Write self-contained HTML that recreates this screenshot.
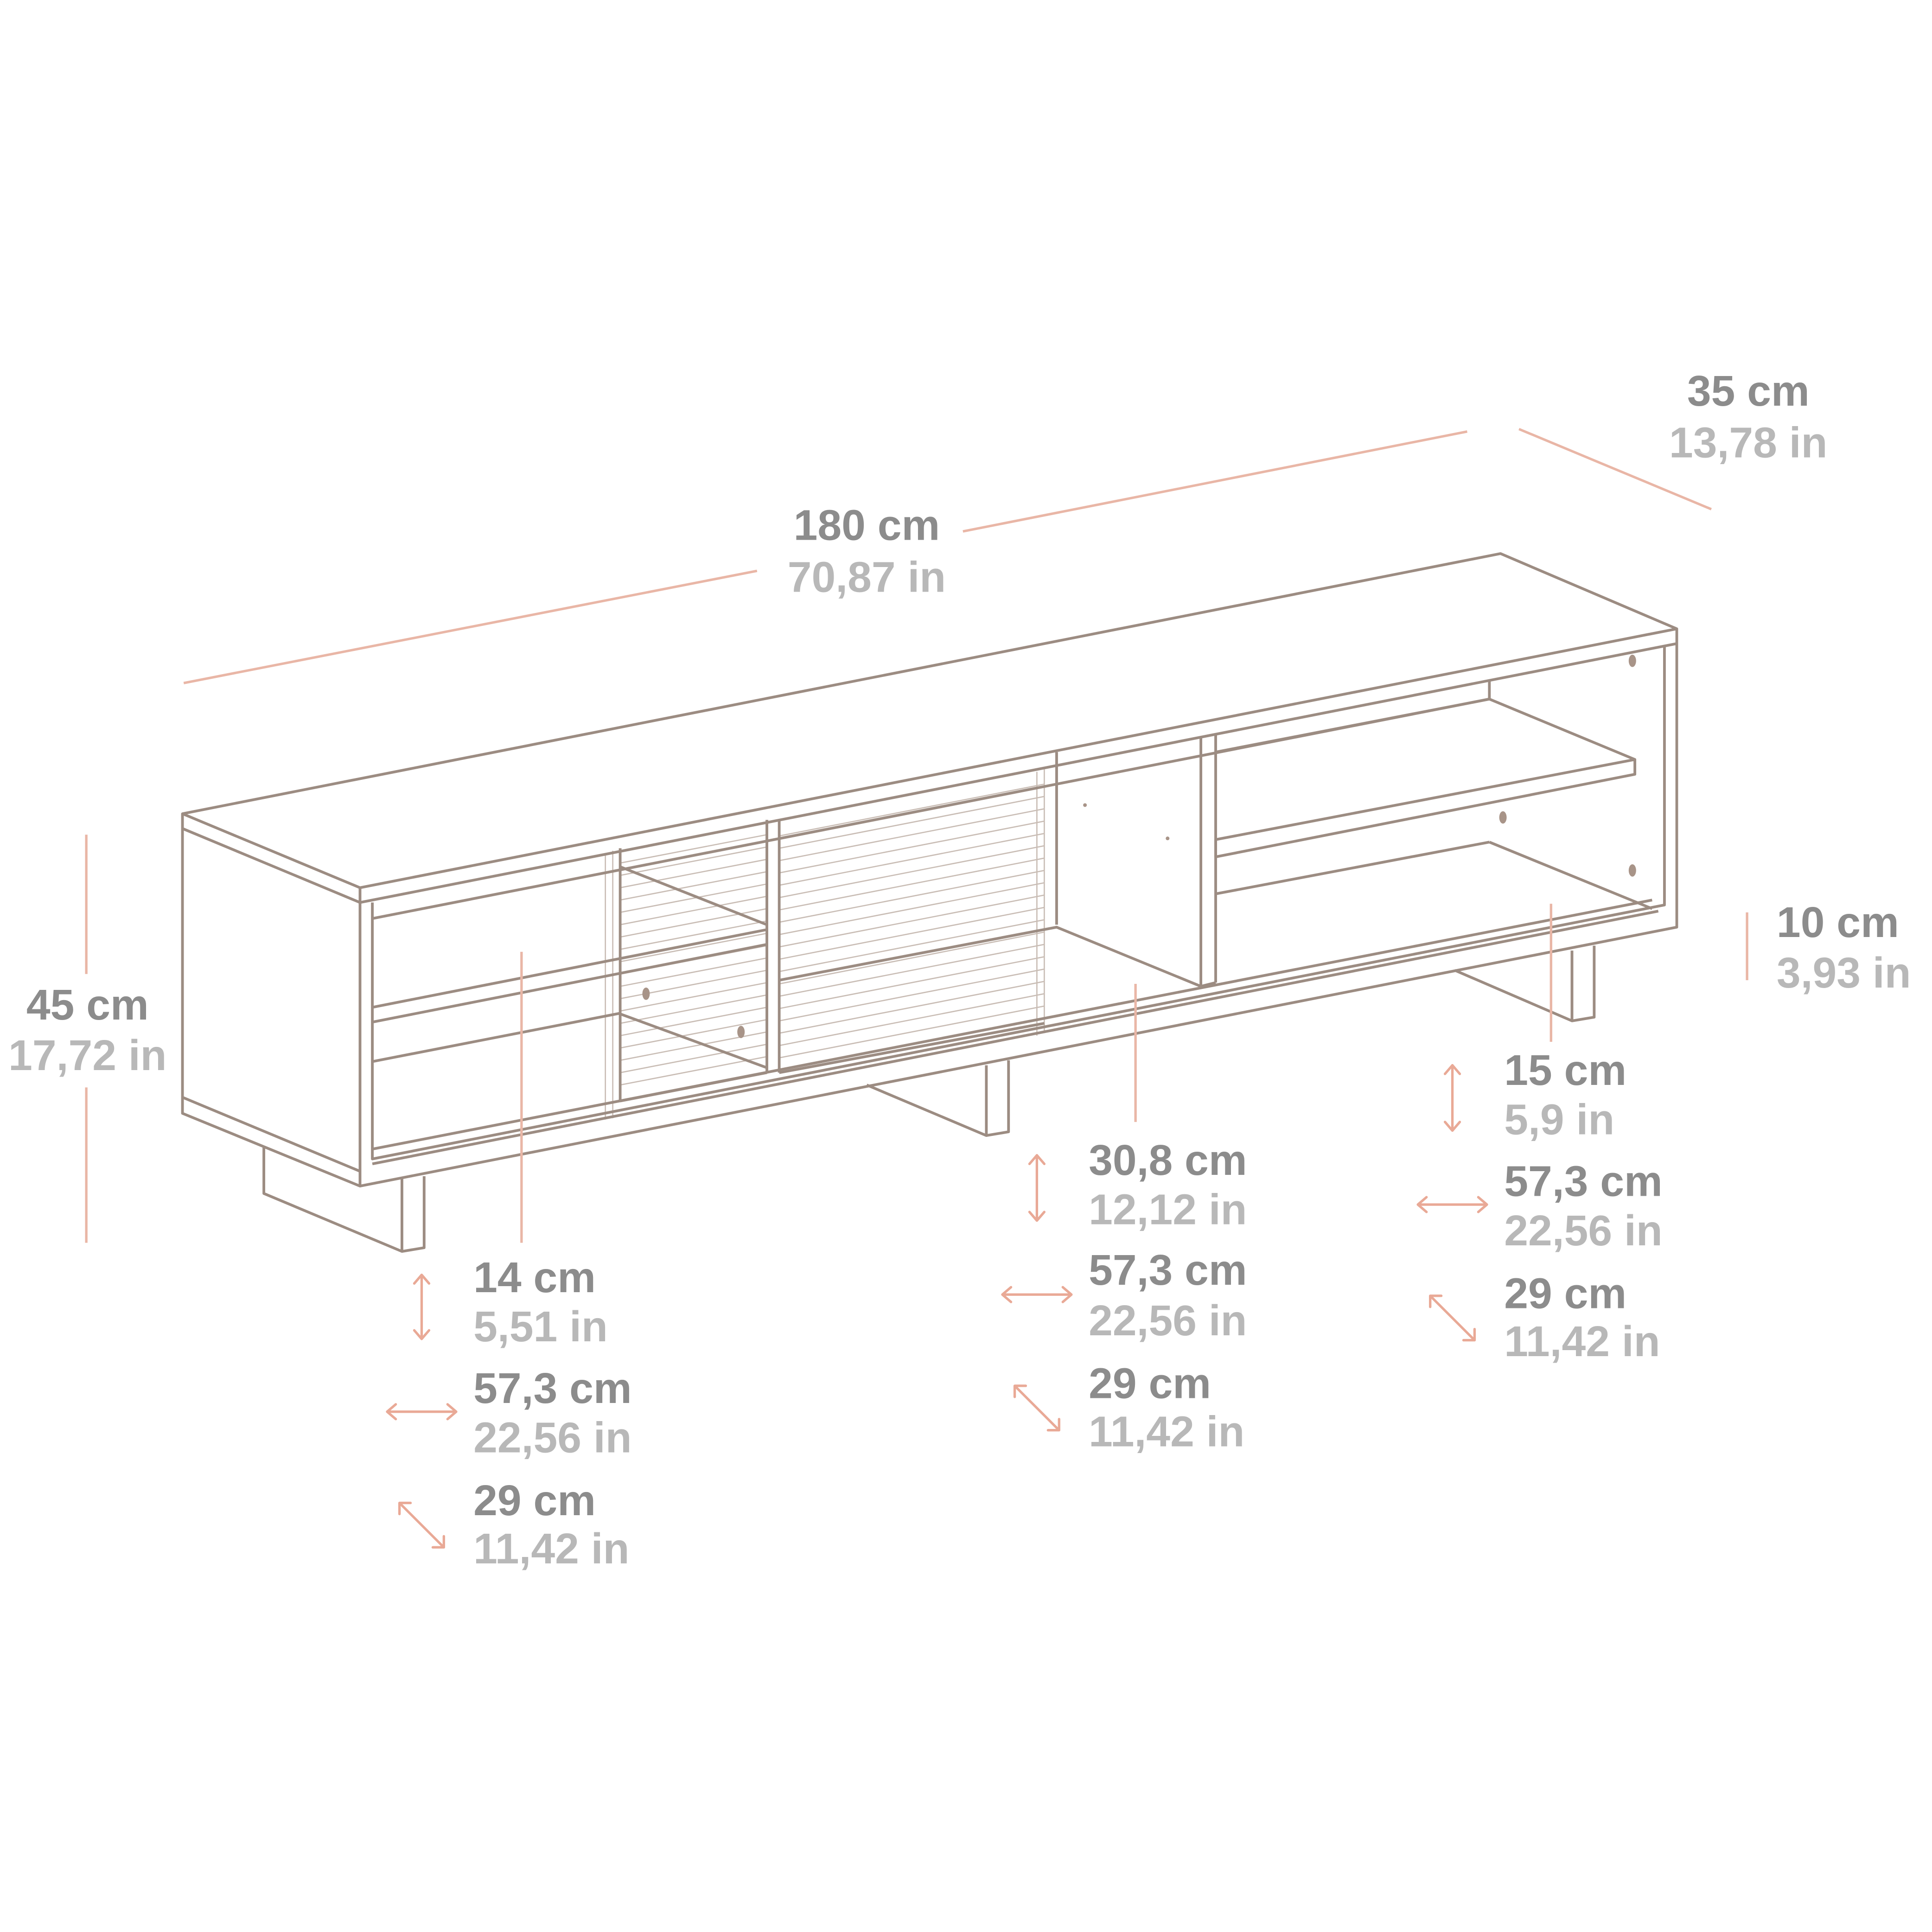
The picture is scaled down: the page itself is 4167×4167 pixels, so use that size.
<!DOCTYPE html>
<html><head><meta charset="utf-8"><style>
html,body{margin:0;padding:0;background:#fff;}
svg{display:block;}
.f{fill:none;stroke:#9c8c82;stroke-width:2.2;stroke-linejoin:round}
.s{fill:none;stroke:#c9bdb5;stroke-width:1}
.d{fill:none;stroke:#e9b6a6;stroke-width:2}
.a{fill:none;stroke:#e9a996;stroke-width:2;stroke-linecap:round;stroke-linejoin:round}
.t1{font-family:"Liberation Sans",sans-serif;font-weight:bold;font-size:35px;fill:#8c8c8c}
.t2{font-family:"Liberation Sans",sans-serif;font-weight:bold;font-size:35px;fill:#b8b8b8}
</style></head><body>
<svg width="4167" height="4167" viewBox="0 0 1567 1567" xmlns="http://www.w3.org/2000/svg">
<rect width="1567" height="1567" fill="#fff"/>
<g class="s">
<path d="M503 700 L622 677 M503 710 L622 687 M503 720 L622 697 M503 730 L622 707 M503 740 L622 717 M503 750 L622 727 M503 760 L622 737 M503 770 L622 747 M503 780 L622 757 M503 790 L622 767 M503 800 L622 777 M503 810 L622 787 M503 820 L622 797 M503 830 L622 807 M503 840 L622 817 M503 850 L622 827 M503 860 L622 837 M503 870 L622 847 M503 880 L622 857"/>
<path d="M632 678 L847 636 M632 688 L847 646 M632 698 L847 656 M632 708 L847 666 M632 718 L847 676 M632 728 L847 686 M632 738 L847 696 M632 748 L847 706 M632 758 L847 716 M632 768 L847 726 M632 778 L847 736 M632 788 L847 746 M632 798 L847 756 M632 808 L847 766 M632 818 L847 776 M632 828 L847 786 M632 838 L847 796 M632 848 L847 806 M632 858 L847 816"/>
<path d="M491 692 V908 M497 690 V907 M841 626 V840 M847 624 V838"/>
</g>
<g class="f">
<path d="M148 660 L1217 449 L1360 510 L292 720 Z"/>
<path d="M148 660 V903 L292 962 V720"/>
<path d="M148 672 L292 732"/>
<path d="M148 890 L292 950"/>
<path d="M1360 510 V752 L292 962"/>
<path d="M292 732 L1360 522"/>
<path d="M302 732 V940 L1350 734 V524"/>
<path d="M302 745 L1208 567 M1208 552 V567"/>
<path d="M302 932 L1340 730 M302 944 L1345 739 M1208 683 L1340 737"/>
<path d="M302 817 L622 754 M302 829 L622 766 M302 861 L502 822 L622 866"/>
<path d="M503 703 L622 750 M503 688 V893 M622 665 V870 M632 665 V870 M503 893 L622 870 M632 870 L847 830"/>
<path d="M632 795 L857 752 L974 800"/>
<path d="M857 610 V750 M974 598 V800 M986 596 V797 M974 800 L986 797"/>
<path d="M986 610 L1208 567 L1326 616 V628 L986 695 V681 L1326 616"/>
<path d="M986 725 L1208 683"/>
<path d="M214 930 V968 L326 1015 L344 1012 V954 M326 1015 V956"/>
<path d="M703 880 L800 921 L818 918 V860 M800 921 V864"/>
<path d="M1180 787 L1275 828 L1293 825 V767 M1275 828 V771"/>
</g>
<g fill="#a89488"><ellipse cx="1324" cy="536" rx="3" ry="5"/><ellipse cx="1219" cy="663" rx="3" ry="5"/><ellipse cx="1324" cy="706" rx="3" ry="5"/><ellipse cx="524" cy="806" rx="3" ry="5"/><ellipse cx="601" cy="837" rx="3" ry="5"/><circle cx="880" cy="653" r="1.5"/><circle cx="947" cy="680" r="1.5"/></g>
<g class="d">
<path d="M149 554 L614 463 M781 431 L1190 350 M1232 348 L1388 413"/>
<path d="M70 677 V790 M70 882 V1008 M1417 740 V795"/>
<path d="M423 772 V1008 M921 798 V910 M1258 733 V845"/>
</g>
<g class="a">
<path d="M342 1034 V1086 M336 1041 L342 1034 L348 1041 M336 1079 L342 1086 L348 1079"/>
<path d="M314 1145 H370 M321 1139 L314 1145 L321 1151 M363 1139 L370 1145 L363 1151"/>
<path d="M324 1219 L360 1255 M324 1228 L324 1219 L333 1219 M351 1255 L360 1255 L360 1246"/>
<path d="M841 937 V990 M835 944 L841 937 L847 944 M835 983 L841 990 L847 983"/>
<path d="M813 1050 H869 M820 1044 L813 1050 L820 1056 M862 1044 L869 1050 L862 1056"/>
<path d="M823 1124 L859 1160 M823 1133 L823 1124 L832 1124 M850 1160 L859 1160 L859 1151"/>
<path d="M1178 864 V917 M1172 871 L1178 864 L1184 871 M1172 910 L1178 917 L1184 910"/>
<path d="M1150 977 H1206 M1157 971 L1150 977 L1157 983 M1199 971 L1206 977 L1199 983"/>
<path d="M1160 1051 L1196 1087 M1160 1060 L1160 1051 L1169 1051 M1187 1087 L1196 1087 L1196 1078"/>
</g>
<text class="t1" x="703" y="438" text-anchor="middle">180 cm</text>
<text class="t2" x="703" y="480" text-anchor="middle">70,87 in</text>
<text class="t1" x="1418" y="329" text-anchor="middle">35 cm</text>
<text class="t2" x="1418" y="371" text-anchor="middle">13,78 in</text>
<text class="t1" x="71" y="827" text-anchor="middle">45 cm</text>
<text class="t2" x="71" y="868" text-anchor="middle">17,72 in</text>
<text class="t1" x="1441" y="760">10 cm</text>
<text class="t2" x="1441" y="801">3,93 in</text>
<text class="t1" x="384" y="1048">14 cm</text>
<text class="t2" x="384" y="1088">5,51 in</text>
<text class="t1" x="384" y="1138">57,3 cm</text>
<text class="t2" x="384" y="1178">22,56 in</text>
<text class="t1" x="384" y="1229">29 cm</text>
<text class="t2" x="384" y="1268">11,42 in</text>
<text class="t1" x="883" y="953">30,8 cm</text>
<text class="t2" x="883" y="993">12,12 in</text>
<text class="t1" x="883" y="1042">57,3 cm</text>
<text class="t2" x="883" y="1083">22,56 in</text>
<text class="t1" x="883" y="1134">29 cm</text>
<text class="t2" x="883" y="1173">11,42 in</text>
<text class="t1" x="1220" y="880">15 cm</text>
<text class="t2" x="1220" y="920">5,9 in</text>
<text class="t1" x="1220" y="970">57,3 cm</text>
<text class="t2" x="1220" y="1010">22,56 in</text>
<text class="t1" x="1220" y="1061">29 cm</text>
<text class="t2" x="1220" y="1100">11,42 in</text>
</svg>
</body></html>
